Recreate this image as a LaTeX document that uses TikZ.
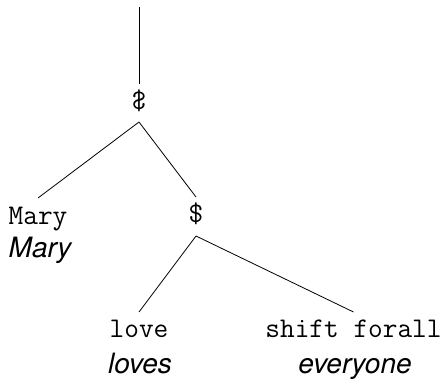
\documentclass[tikz,border=0pt]{standalone}
\usepackage{fontspec}
\usepackage{graphicx}
\newfontfamily\hvfont{TeX Gyre Heros}
\tikzset{
  ttlab/.style={font=\fontsize{28.5}{32}\selectfont\ttfamily, inner sep=0pt, anchor=base},
  itlab/.style={font=\fontsize{28}{32}\selectfont\hvfont\itshape, inner sep=0pt, anchor=base},
  edge/.style={draw, line width=0.8pt}
}
\begin{document}
\begin{tikzpicture}[x=1pt,y=-1pt]
\useasboundingbox (0,0) rectangle (446,378);
\coordinate (top) at (139,7);
\node[ttlab] (root) at (139,109) {\reflectbox{\$}};
\node[ttlab] (mary) at (38,224) {Mary};
\node[itlab] (maryi) at (40,257) {Mary};
\node[ttlab] (dollar) at (196,222) {\$};
\node[ttlab] (love) at (139,337) {love};
\node[itlab] (loves) at (140,373) {loves};
\node[ttlab] (shift) at (353.5,337) {shift forall};
\node[itlab] (every) at (355,373) {everyone};
\draw[edge] (top) -- ([yshift=25pt]root.base);
\draw[edge] ([yshift=-13pt]root.base) -- ([yshift=26pt]mary.base);
\draw[edge] ([yshift=-13pt]root.base) -- ([yshift=25pt]dollar.base);
\draw[edge] ([yshift=-14pt]dollar.base) -- ([yshift=25pt]love.base);
\draw[edge] ([yshift=-14pt]dollar.base) -- ([yshift=25pt]shift.base);
\end{tikzpicture}
\end{document}
